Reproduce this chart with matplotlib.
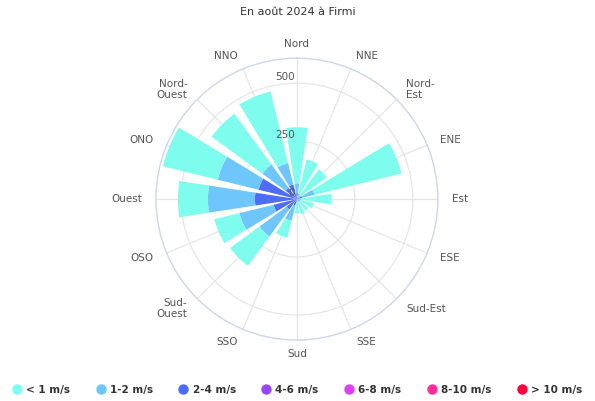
import numpy as np
import matplotlib.pyplot as plt
from matplotlib.lines import Line2D
from matplotlib.transforms import offset_copy

# -------------------------------
# DATA
# -------------------------------
directions = ['Nord', 'NNE', 'Nord-\nEst', 'ENE', 'Est', 'ESE', 'Sud-Est', 'SSE',
              'Sud', 'SSO', 'Sud-\nOuest', 'OSO', 'Ouest', 'ONO', 'Nord-\nOuest', 'NNO']

speed_classes = ['< 1 m/s', '1-2 m/s', '2-4 m/s', '4-6 m/s', '6-8 m/s', '8-10 m/s', '> 10 m/s']
colors = ['#7efcee', '#6ec6fc', '#4d6cfa', '#9747f7', '#e040fb', '#ff2d9b', '#ff0040']

v_lt1 = [242, 150, 140, 387, 130, 60, 50, 55, 45, 75, 157, 111, 129, 243, 271, 318]
v_1_2 = [43, 20, 15, 55, 15, 12, 10, 10, 12, 70, 145, 152, 203, 182, 125, 95]
v_2_4 = [25, 6, 5, 23, 5, 3, 2, 3, 5, 27, 55, 95, 171, 160, 52, 60]
v_4_6 = [0, 0, 0, 0, 0, 0, 0, 0, 0, 0, 0, 8, 10, 10, 8, 5]
v_6_8 = [0] * 16
v_8_10 = [0] * 16
v_gt10 = [0] * 16

series = [v_lt1, v_1_2, v_2_4, v_4_6, v_6_8, v_8_10, v_gt10]

r_max = 608
r_ticks = [0, 250, 500]

# -------------------------------
# FIGURE
# -------------------------------
plt.rcParams['font.family'] = ['DejaVu Sans']
fig = plt.figure(figsize=(5.95, 4.01), dpi=100)
ax = fig.add_axes([0.262, 0.152, 0.474, 0.703], projection='polar')
ax.set_theta_zero_location('N')
ax.set_theta_direction(-1)

n = len(directions)
theta = np.arange(n) * 2 * np.pi / n
width = 0.78 * 2 * np.pi / n

# highest speed class innermost
bottom = np.zeros(n)
for vals, col in reversed(list(zip(series, colors))):
    vals = np.array(vals, dtype=float)
    ax.bar(theta, vals, width=width, bottom=bottom, color=col, edgecolor='none', zorder=2)
    bottom += vals

ax.set_ylim(0, r_max)
ax.set_yticks(r_ticks[1:])
ax.set_yticklabels([])
ax.set_xticks(theta)
ax.set_xticklabels([])
ax.grid(color='#e6e6e6', linewidth=0.9)
ax.set_axisbelow(True)
ax.spines['polar'].set_color('#ccd6eb')
ax.spines['polar'].set_linewidth(1.0)
ax.tick_params(length=0)

# direction labels
r_lab = r_max * 155 / 141
for t, lab in zip(theta, directions):
    s = np.sin(t)
    ha = 'center' if abs(s) < 0.01 else ('left' if s > 0 else 'right')
    ax.text(t, r_lab, lab, ha=ha, va='center', fontsize=7.5, color='#555555',
            linespacing=1.2, clip_on=False)

# radial labels
trans = offset_copy(ax.transData, fig=fig, x=-2, y=6, units='dots')
for rv in r_ticks:
    ax.text(0, rv, str(rv), transform=trans, ha='right', va='center',
            fontsize=7.5, color='#555555', zorder=5)

fig.text(0.5, 1 - 12 / 401, 'En août 2024 à Firmi', ha='center', va='center',
         fontsize=8, color='#333333')

handles = [Line2D([], [], marker='o', linestyle='none', markersize=7.5,
                  markerfacecolor=c, markeredgecolor='none') for c in colors]
leg = fig.legend(handles, speed_classes, loc='center', bbox_to_anchor=(0.5, 1 - 390 / 401),
                 ncol=7, frameon=False, handlelength=0.8, handletextpad=0.5,
                 columnspacing=2.5, prop={'weight': 'bold', 'size': 7.5})
for txt in leg.get_texts():
    txt.set_color('#333333')

plt.savefig('out.png', dpi=100)
